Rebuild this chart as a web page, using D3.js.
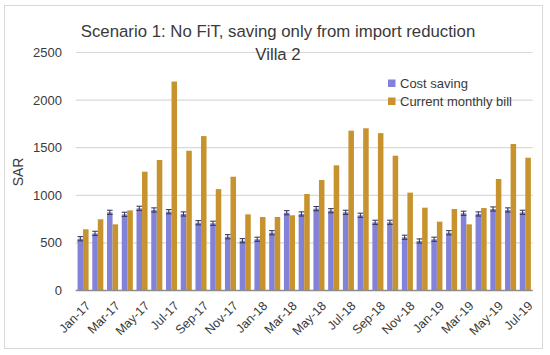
<!DOCTYPE html>
<html>
<head>
<meta charset="utf-8">
<script src="https://cdn.jsdelivr.net/npm/d3@7"></script>
<style>
  body { margin: 0; background: #fff; }
  text { font-family: "Liberation Sans", Arial, sans-serif; fill: #3a3a3a; }
</style>
</head>
<body>
<svg id="chart" width="550" height="355"></svg>
<script>
const months = ['Jan-17','Feb-17','Mar-17','Apr-17','May-17','Jun-17','Jul-17','Aug-17','Sep-17','Oct-17','Nov-17','Dec-17',
  'Jan-18','Feb-18','Mar-18','Apr-18','May-18','Jun-18','Jul-18','Aug-18','Sep-18','Oct-18','Nov-18','Dec-18',
  'Jan-19','Feb-19','Mar-19','Apr-19','May-19','Jun-19','Jul-19'];
const costSaving = [544, 600, 821, 800, 863, 846, 828, 804, 712, 706, 565, 523,
  538, 607, 817, 804, 860, 838, 821, 790, 716, 716, 559, 520,
  538, 607, 811, 804, 856, 846, 821];
const monthlyBill = [643, 748, 695, 842, 1248, 1371, 2195, 1468, 1622, 1065, 1195, 800,
  772, 772, 790, 1014, 1161, 1315, 1679, 1704, 1653, 1416, 1028, 870,
  723, 856, 695, 866, 1171, 1539, 1395];
const errorSize = 22;
const yTicks = [0, 500, 1000, 1500, 2000, 2500];
const seriesNames = ['Cost saving', 'Current monthly bill'];
const colors = ['#8282d8', '#c6932f'];

const svg = d3.select('#chart');
const width = +svg.attr('width');
const height = +svg.attr('height');
const margin = { left: 75.7, right: 17.3, top: 52.5, bottom: 64.5 };

// outer border
svg.append('rect')
  .attr('x', 4.5).attr('y', 5.5)
  .attr('width', 538).attr('height', 343)
  .attr('fill', 'none').attr('stroke', '#d9d9d9');

const x = d3.scaleBand()
  .domain(months)
  .range([margin.left, width - margin.right])
  .paddingInner(0.25)
  .paddingOuter(0.125);

const xSub = d3.scaleBand()
  .domain([0, 1])
  .range([0, x.bandwidth()]);

const y = d3.scaleLinear()
  .domain([0, 2500])
  .range([height - margin.bottom, margin.top]);

// gridlines
svg.append('g')
  .selectAll('line')
  .data(yTicks.slice(1))
  .enter()
  .append('line')
  .attr('x1', margin.left)
  .attr('x2', width - margin.right)
  .attr('y1', d => y(d))
  .attr('y2', d => y(d))
  .attr('stroke', '#d9d9d9')
  .attr('stroke-width', 1.2);

// y axis labels
svg.append('g')
  .selectAll('text')
  .data(yTicks)
  .enter()
  .append('text')
  .attr('x', 62)
  .attr('y', d => y(d))
  .attr('dy', '0.35em')
  .attr('text-anchor', 'end')
  .style('font-size', '13px')
  .text(d => d);

svg.append('text')
  .attr('transform', `translate(23,${y(1245)}) rotate(-90)`)
  .attr('text-anchor', 'middle')
  .style('font-size', '14px')
  .text('SAR');

const seriesData = [costSaving, monthlyBill];

seriesData.forEach((vals, s) => {
  svg.append('g')
    .selectAll('rect')
    .data(vals)
    .enter()
    .append('rect')
    .attr('x', (d, i) => x(months[i]) + xSub(s))
    .attr('y', d => y(d))
    .attr('width', xSub.bandwidth())
    .attr('height', d => y(0) - y(d))
    .attr('fill', colors[s]);
});

// error bars on cost saving
const err = svg.append('g')
  .attr('stroke', '#3c3c5a')
  .attr('stroke-width', 1.1)
  .selectAll('g')
  .data(costSaving)
  .enter()
  .append('g');

const cx = (i) => x(months[i]) + xSub(0) + xSub.bandwidth() / 2;
err.append('line')
  .attr('x1', (d, i) => cx(i)).attr('x2', (d, i) => cx(i))
  .attr('y1', d => y(d - errorSize)).attr('y2', d => y(d + errorSize));
err.append('line')
  .attr('x1', (d, i) => cx(i) - 2.8).attr('x2', (d, i) => cx(i) + 2.8)
  .attr('y1', d => y(d + errorSize)).attr('y2', d => y(d + errorSize));
err.append('line')
  .attr('x1', (d, i) => cx(i) - 2.8).attr('x2', (d, i) => cx(i) + 2.8)
  .attr('y1', d => y(d - errorSize)).attr('y2', d => y(d - errorSize));

// x axis line
svg.append('line')
  .attr('x1', margin.left).attr('x2', width - margin.right)
  .attr('y1', y(0)).attr('y2', y(0))
  .attr('stroke', '#8c8c8c').attr('stroke-width', 1.3);

// x labels (every other month)
svg.append('g')
  .selectAll('text')
  .data(months.filter((m, i) => i % 2 === 0))
  .enter()
  .append('text')
  .attr('transform', d => `translate(${x(d) + x.bandwidth() / 2 + 5},${y(0) + 13}) rotate(-45)`)
  .attr('text-anchor', 'end')
  .attr('dy', '0.35em')
  .style('font-size', '12.5px')
  .text(d => d);

// title
svg.append('text')
  .attr('x', 278).attr('y', 37)
  .attr('text-anchor', 'middle')
  .style('font-size', '16.8px')
  .text('Scenario 1: No FiT, saving only from import reduction');
svg.append('text')
  .attr('x', 278).attr('y', 60)
  .attr('text-anchor', 'middle')
  .style('font-size', '16.8px')
  .text('Villa 2');

// legend
const legend = svg.append('g')
  .selectAll('g')
  .data(seriesNames)
  .enter()
  .append('g')
  .attr('transform', (d, i) => `translate(388,${79.5 + i * 18})`);
legend.append('rect')
  .attr('width', 7.5).attr('height', 7.5)
  .attr('fill', (d, i) => colors[i]);
legend.append('text')
  .attr('x', 12).attr('y', 4)
  .attr('dy', '0.35em')
  .style('font-size', '13px')
  .text(d => d);
</script>
</body>
</html>
